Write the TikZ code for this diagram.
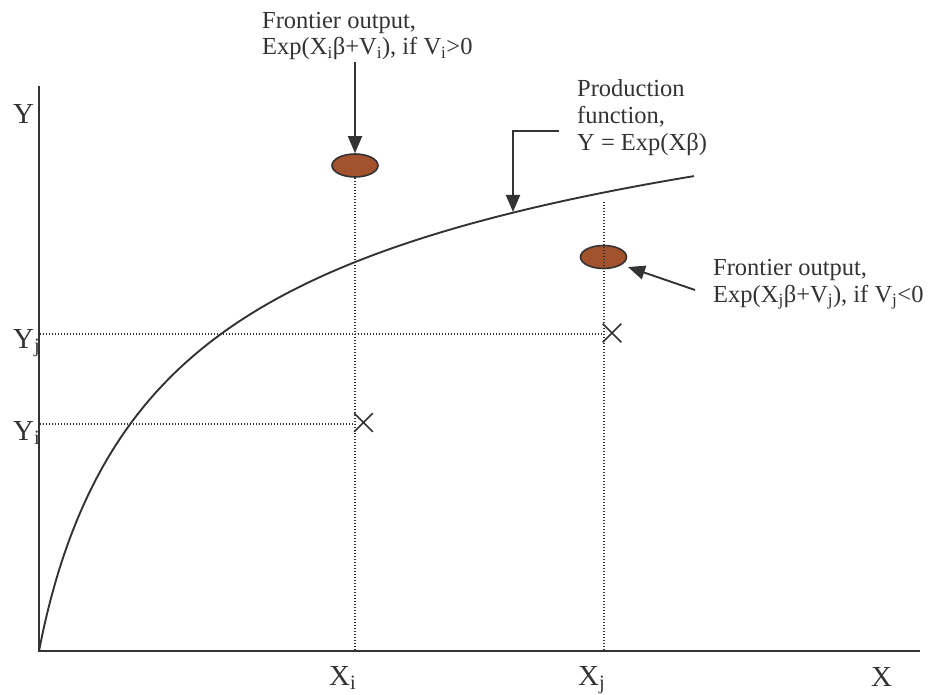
\documentclass[tikz,border=0pt]{standalone}
\usepackage{fontspec}
\setmainfont{Liberation Serif}
\usetikzlibrary{arrows.meta,shapes.geometric,shapes.misc}
\definecolor{ink}{RGB}{51,51,51}
\definecolor{brick}{RGB}{163,82,46}
\begin{document}
\begin{tikzpicture}[x=1pt,y=-1pt,
  axis/.style={draw=ink,line width=2pt},
  curve/.style={draw=ink,line width=1.9pt},
  guide/.style={draw=ink,line width=1.1pt,dash pattern=on 1.1pt off 1.9pt},
  pointer/.style={draw=ink,line width=1.9pt,-{Triangle[length=17pt,width=14pt]}},
  dot/.style={ellipse,draw=ink,line width=1.6pt,fill=brick,minimum width=46pt,minimum height=23pt,inner sep=0pt},
  xmark/.style={cross out,draw=ink,line width=1.6pt,minimum size=17pt,inner sep=0pt},
  note/.style={anchor=base west,inner sep=0pt,text=ink,font=\fontsize{24.5}{27}\selectfont},
  axlab/.style={anchor=base west,inner sep=0pt,text=ink,font=\fontsize{29}{32}\selectfont}]
\useasboundingbox (0,0) rectangle (929,695);
% axes
\coordinate (O) at (39,651);
\coordinate (ytop) at (39,86);
\coordinate (xend) at (920,651);
\draw[axis] (ytop) -- (O) -- (xend);
% ellipses and crosses
\node[dot] (ei) at (355,165.5) {};
\node[dot] (ej) at (603.5,257) {};
\node[xmark] (ci) at (363.5,422.5) {};
\node[xmark] (cj) at (612,333) {};
% guides
\coordinate (xib) at (355,651);
\coordinate (xjt) at (604,202);
\coordinate (xjb) at (604,651);
\coordinate (yjl) at (40,334);
\coordinate (yjr) at (604,334);
\coordinate (yil) at (40,424);
\coordinate (yir) at (355,424);
\draw[guide] (ei.south) -- (xib);
\draw[guide] (xjt) -- (xjb);
\draw[guide] (yjl) -- (yjr);
\draw[guide] (yil) -- (yir);
% production curve
\draw[curve] plot[domain=0:655,samples=160,smooth] ({39+\x},{651-0.5*(138.6*ln(1+\x/22)+577*(\x/(\x+140.8)))});
% annotations
\node[note] (fi1) at (262,29) {Frontier output,};
\node[note] (fi2) at (262,55) {Exp(X\textsubscript{i}β+V\textsubscript{i}), if V\textsubscript{i}>0};
\node[note] (pf1) at (577,97) {Production};
\node[note] (pf2) at (577,124) {function,};
\node[note] (pf3) at (577,151) {Y = Exp(Xβ)};
\node[note] (fj1) at (713,275) {Frontier output,};
\node[note] (fj2) at (713,302) {Exp(X\textsubscript{j}β+V\textsubscript{j}), if V\textsubscript{j}<0};
% pointers
\coordinate (a1) at (355,62);
\draw[pointer] (a1) -- (ei.north);
\coordinate (a2s) at (695,290);
\coordinate (a2e) at (628,267);
\draw[pointer] (a2s) -- (a2e);
\coordinate (a3s) at (559,131);
\coordinate (a3m) at (513,131);
\coordinate (a3e) at (513,212);
\draw[pointer] (a3s) -- (a3m) -- (a3e);
% axis labels
\node[axlab] (ly) at (13,124) {Y};
\node[axlab] (lyj) at (13,348) {Y\textsubscript{j}};
\node[axlab] (lyi) at (13,440) {Y\textsubscript{i}};
\node[axlab] (lxi) at (329,685) {X\textsubscript{i}};
\node[axlab] (lxj) at (578,685) {X\textsubscript{j}};
\node[axlab] (lx) at (871,686) {X};
\end{tikzpicture}
\end{document}
